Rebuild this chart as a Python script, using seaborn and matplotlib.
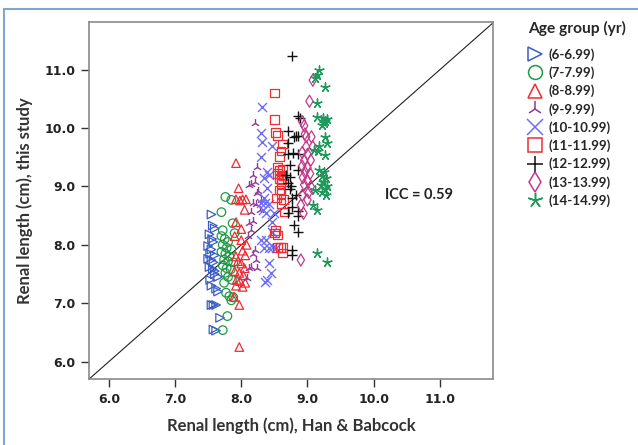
import matplotlib
matplotlib.use("Agg")
import matplotlib.pyplot as plt
from matplotlib.lines import Line2D
import pandas as pd
import seaborn as sns

# age groups and how they are drawn
groups = ["(6-6.99)", "(7-7.99)", "(8-8.99)", "(9-9.99)", "(10-10.99)",
          "(11-11.99)", "(12-12.99)", "(13-13.99)", "(14-14.99)"]
colors = ["#3b5cc4", "#1f9a45", "#f02a2f", "#8e3c97", "#6e6ef5",
          "#ee2e34", "#111111", "#c2398a", "#1f9a5c"]
markers = [">", "o", "^", "2", "x", "s", "+", "d", (5, 2, 0)]

# Han & Babcock (x) vs this study (y)
x_6 = [7.55, 7.57, 7.60, 7.52, 7.56, 7.58, 7.50, 7.55, 7.53, 7.60, 7.50, 7.55, 7.58, 7.52,
       7.57, 7.60, 7.53, 7.55, 7.62, 7.65, 7.55, 7.58, 7.62, 7.68, 7.58, 7.62, 7.60, 7.65]
y_6 = [8.52, 8.33, 8.28, 8.18, 8.10, 8.05, 7.98, 7.92, 7.85, 7.82, 7.76, 7.74, 7.70, 7.62,
       7.58, 7.55, 7.40, 7.30, 7.25, 7.20, 6.97, 6.97, 6.97, 6.75, 6.55, 6.53, 7.50, 7.45]

x_7 = [7.76, 7.85, 7.70, 7.87, 7.72, 7.90, 7.70, 7.75, 7.80, 7.72, 7.78, 7.85, 7.70, 7.76,
       7.82, 7.74, 7.80, 7.88, 7.72, 7.78, 7.84, 7.76, 7.80, 7.86, 7.74, 7.77, 7.82, 7.85,
       7.88, 7.79, 7.72]
y_7 = [8.82, 8.77, 8.56, 8.37, 8.25, 8.20, 8.15, 8.10, 8.05, 8.00, 7.95, 7.92, 7.88, 7.85,
       7.80, 7.75, 7.72, 7.70, 7.65, 7.60, 7.58, 7.52, 7.45, 7.40, 7.35, 7.18, 7.12, 7.05,
       7.10, 6.78, 6.54]

x_8 = [7.92, 7.96, 7.92, 8.02, 8.07, 7.98, 8.05, 7.92, 8.00, 8.00, 8.02, 7.92, 8.06, 7.95,
       8.00, 8.05, 7.90, 7.97, 8.03, 7.93, 7.98, 8.06, 7.92, 8.02, 7.89, 7.97, 7.97, 7.90, 8.08]
y_8 = [9.40, 8.97, 8.78, 8.78, 8.78, 8.76, 8.60, 8.39, 8.27, 8.08, 7.90, 7.80, 7.82, 7.72,
       7.68, 7.60, 7.55, 7.52, 7.48, 7.40, 7.38, 7.35, 7.30, 7.28, 7.11, 6.97, 6.25, 8.15, 8.00]

x_9 = [8.20, 8.24, 8.17, 8.20, 8.12, 8.15, 8.26, 8.24, 8.30, 8.17, 8.22, 8.15, 8.12, 8.18,
       8.15, 8.10, 8.20, 8.22, 8.15, 8.24, 8.12, 8.09, 8.18, 8.28]
y_9 = [10.08, 9.33, 9.19, 9.07, 9.02, 9.05, 8.92, 8.88, 8.77, 8.71, 8.70, 8.56, 8.37, 8.40,
       8.25, 8.15, 7.91, 7.74, 7.62, 7.60, 7.60, 7.43, 7.85, 8.60]

x_10 = [8.32, 8.30, 8.32, 8.47, 8.30, 8.39, 8.35, 8.42, 8.39, 8.35, 8.30, 8.36, 8.42, 8.38,
        8.47, 8.30, 8.38, 8.47, 8.35, 8.42, 8.48, 8.53, 8.42, 8.45, 8.39, 8.36, 8.50, 8.33]
y_10 = [10.36, 9.92, 9.77, 9.69, 9.50, 9.25, 9.14, 9.20, 8.97, 8.80, 8.71, 8.72, 8.70, 8.54,
        8.39, 8.08, 8.08, 8.22, 7.94, 7.95, 7.96, 7.94, 7.69, 7.51, 7.40, 7.37, 8.55, 8.60]

x_11 = [8.50, 8.50, 8.52, 8.55, 8.62, 8.60, 8.58, 8.55, 8.58, 8.62, 8.55, 8.60, 8.63, 8.57,
        8.61, 8.58, 8.60, 8.53, 8.60, 8.60, 8.65, 8.50, 8.55, 8.52, 8.55, 8.59, 8.63, 8.62, 8.64]
y_11 = [10.60, 10.15, 9.92, 9.87, 9.73, 9.61, 9.51, 9.33, 9.28, 9.30, 9.22, 9.20, 9.18, 9.13,
        9.11, 8.94, 9.05, 8.80, 8.88, 8.71, 8.56, 8.20, 8.17, 8.25, 7.95, 7.95, 7.95, 7.86, 8.78]

x_12 = [8.76, 8.85, 8.89, 8.70, 8.79, 8.82, 8.86, 8.71, 8.70, 8.78, 8.85, 8.73, 8.85, 8.68,
        8.73, 8.71, 8.75, 8.83, 8.77, 8.76, 8.70, 8.85, 8.85, 8.80, 8.85, 8.76, 8.76, 8.73]
y_12 = [11.23, 10.20, 10.17, 9.95, 9.85, 9.86, 9.87, 9.74, 9.56, 9.57, 9.55, 9.37, 9.29, 9.20,
        9.17, 9.06, 9.00, 8.85, 8.80, 8.65, 8.54, 8.58, 8.50, 8.34, 8.22, 7.91, 7.82, 8.95]

x_13 = [9.08, 9.03, 8.92, 8.95, 8.98, 9.06, 8.96, 8.98, 9.08, 8.92, 9.00, 8.95, 9.05, 8.92,
        9.00, 8.96, 9.04, 8.93, 9.00, 8.95, 9.05, 8.92, 9.00, 8.90, 8.94, 9.02, 8.90]
y_13 = [10.82, 10.46, 10.11, 10.04, 9.85, 9.85, 9.90, 9.68, 9.68, 9.58, 9.55, 9.45, 9.45, 9.35,
        9.32, 9.25, 9.22, 9.15, 9.10, 9.03, 9.00, 8.85, 8.77, 8.68, 8.54, 8.90, 7.74]

x_14 = [9.18, 9.15, 9.11, 9.26, 9.14, 9.14, 9.23, 9.27, 9.25, 9.29, 9.22, 9.26, 9.29, 9.18,
        9.10, 9.16, 9.27, 9.18, 9.25, 9.22, 9.28, 9.24, 9.20, 9.30, 9.26, 9.11, 9.22, 9.28,
        9.08, 9.15, 9.14, 9.29]
y_14 = [10.99, 10.91, 10.85, 10.70, 10.43, 10.19, 10.17, 10.12, 10.08, 10.15, 10.05, 9.84,
        9.74, 9.69, 9.62, 9.60, 9.54, 9.28, 9.25, 9.18, 9.15, 9.08, 9.02, 9.00, 8.95, 8.94,
        8.90, 8.85, 8.68, 8.60, 7.86, 7.71]

xs = [x_6, x_7, x_8, x_9, x_10, x_11, x_12, x_13, x_14]
ys = [y_6, y_7, y_8, y_9, y_10, y_11, y_12, y_13, y_14]

ticks = [6.0, 7.0, 8.0, 9.0, 10.0, 11.0]
icc_text = "ICC = 0.59"


def main():
    sns.set_style("white")
    plt.rcParams["font.family"] = ["DejaVu Sans"]

    fig = plt.figure(figsize=(6.38, 4.45), dpi=100)
    ax = fig.add_axes([0.1395, 0.148, 0.633, 0.803])

    rows = []
    for g, xv, yv in zip(groups, xs, ys):
        for a, b in zip(xv, yv):
            rows.append({"han": a, "study": b, "group": g})
    df = pd.DataFrame(rows)

    handles = []
    for g, c, m in zip(groups, colors, markers):
        sub = df[df["group"] == g]
        filled = m in [">", "o", "^", "s", "d"]
        if filled:
            sns.scatterplot(data=sub, x="han", y="study", ax=ax, marker=m, s=38,
                            facecolors="none", edgecolor=c, linewidth=0.9)
            handles.append(Line2D([], [], ls="none", marker=m, markersize=10,
                                  markerfacecolor="none", markeredgecolor=c, markeredgewidth=1.1))
        else:
            sns.scatterplot(data=sub, x="han", y="study", ax=ax, marker=m, s=42,
                            color=c, linewidth=1.0)
            handles.append(Line2D([], [], ls="none", marker=m, markersize=11,
                                  color=c, markeredgewidth=1.1))

    ax.axline((6.0, 6.0), slope=1, color="#222222", lw=0.8, zorder=0)

    ax.set_xlim(5.70, 11.80)
    ax.set_ylim(5.70, 11.82)
    ax.set_xticks(ticks)
    ax.set_yticks(ticks)
    ax.set_xticklabels([f"{t:.1f}" for t in ticks], fontweight="bold", fontsize=9, color="#222222")
    ax.set_yticklabels([f"{t:.1f}" for t in ticks], fontweight="bold", fontsize=9, color="#222222")
    ax.tick_params(axis="both", direction="out", length=6, width=1.0, color="#333333",
                   bottom=True, left=True, top=False, right=False, pad=4)
    for sp in ax.spines.values():
        sp.set_color("#8a8a8a")
        sp.set_linewidth(1.2)

    ax.set_xlabel("Renal length (cm), Han & Babcock", fontsize=12, fontweight="bold",
                  family=["Lato", "DejaVu Sans"], color="#333333", labelpad=8)
    ax.set_ylabel("Renal length (cm), this study", fontsize=12, fontweight="bold",
                  family=["Lato", "DejaVu Sans"], color="#333333", labelpad=8)

    ax.text(10.17, 8.85, icc_text, fontsize=10.5, fontweight="bold",
            family=["Lato", "DejaVu Sans"], color="#222222", va="center")

    leg = fig.legend(handles, groups, title="Age group (yr)", loc="upper left",
                     bbox_to_anchor=(0.828, 0.954), frameon=False, handlelength=1.0,
                     handletextpad=0.55, labelspacing=0.42, borderaxespad=0,
                     borderpad=0, prop={"weight": "bold", "size": 9.6,
                                        "family": ["Lato", "DejaVu Sans"]},
                     title_fontproperties={"weight": "bold", "size": 11.2,
                                           "family": ["Lato", "DejaVu Sans"]})
    leg._legend_box.align = "left"
    leg._legend_box.sep = 9

    # page frame lines from the source document
    fig.add_artist(Line2D([0.006, 1.0], [0.98, 0.98], color="#7ea6cc", lw=1.5,
                          transform=fig.transFigure))
    fig.add_artist(Line2D([0.006, 0.006], [0.0, 0.98], color="#7ea6cc", lw=1.5,
                          transform=fig.transFigure))

    fig.savefig("out.png", dpi=100)


if __name__ == "__main__":
    main()
